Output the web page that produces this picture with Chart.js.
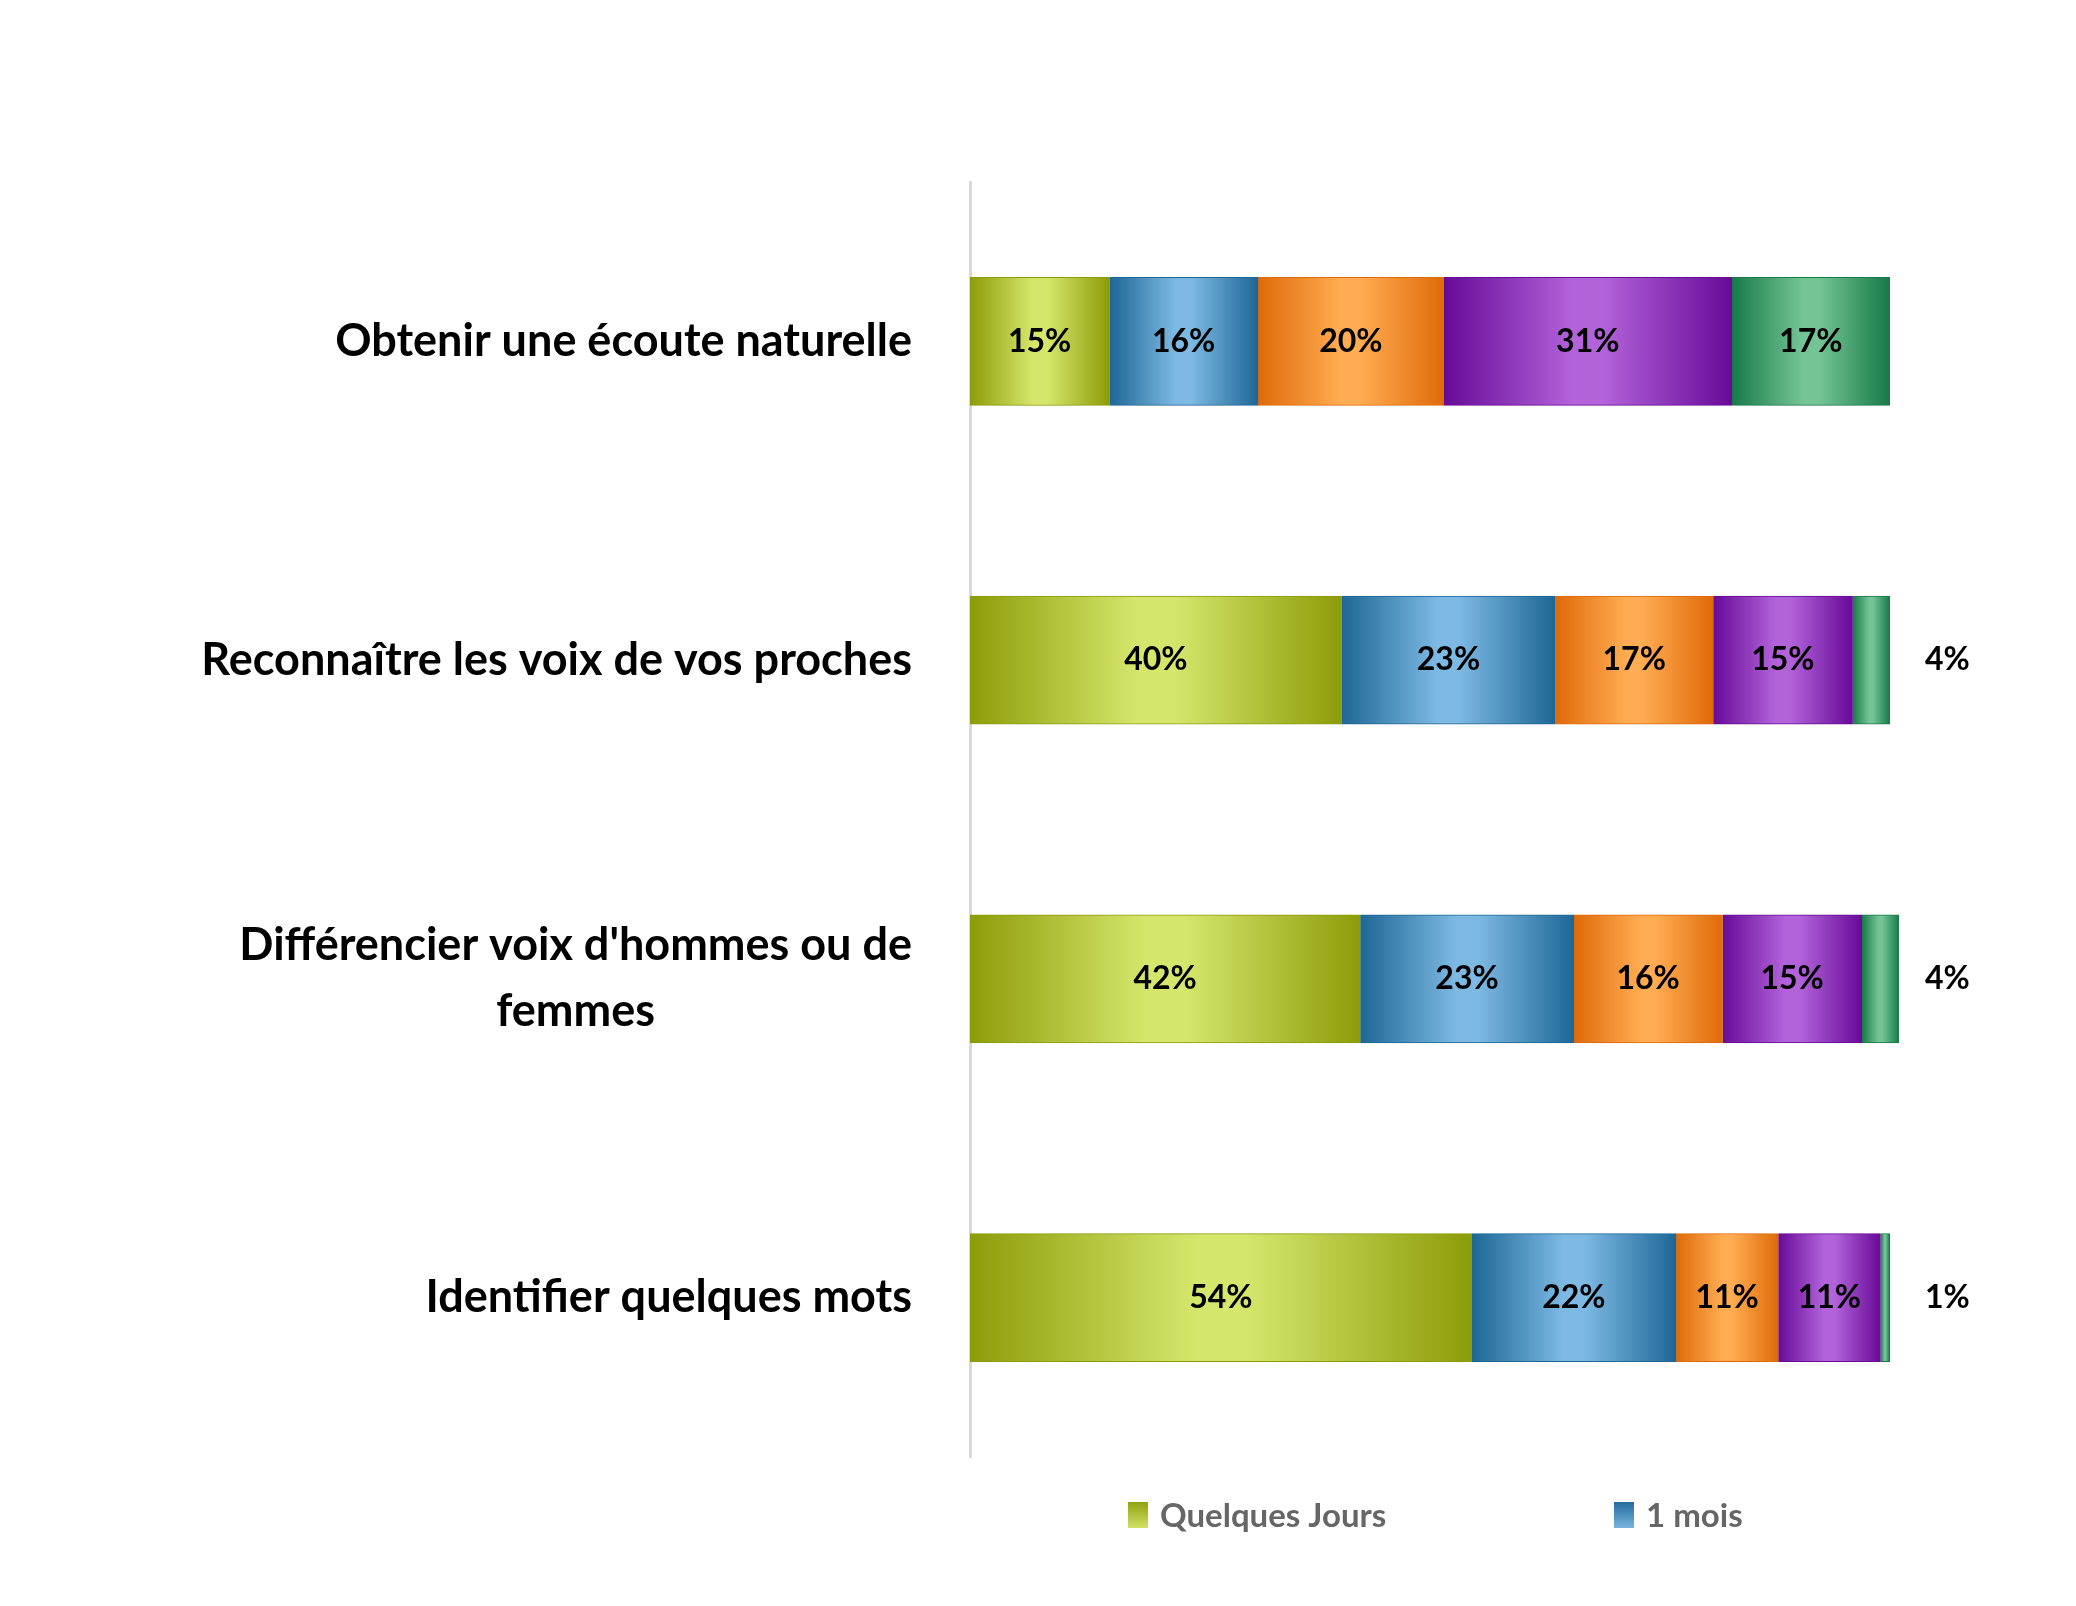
<!DOCTYPE html>
<html>
<head>
<meta charset="utf-8">
<script src="https://cdn.jsdelivr.net/npm/chart.js@4"></script>
<style>
  html, body { margin: 0; padding: 0; background: #fff; }
  canvas { display: block; }
</style>
</head>
<body>
<canvas id="chart" width="2076" height="1606"></canvas>
<script>
const categories = [
    ['Obtenir une écoute naturelle'],
    ['Reconnaître les voix de vos proches'],
    ["Différencier voix d'hommes ou de", 'femmes'],
    ['Identifier quelques mots']
]
const seriesNames = ['Quelques Jours', '1 mois', '2 mois', '3 mois', 'Plus de 3 mois']
const quelquesJours = [15, 40, 42, 54]
const unMois = [16, 23, 23, 22]
const deuxMois = [20, 17, 16, 11]
const troisMois = [31, 15, 15, 11]
const plusTroisMois = [17, 4, 4, 1]
const seriesValues = [quelquesJours, unMois, deuxMois, troisMois, plusTroisMois]

// couleurs: [foncé, clair]
const palette = [
    ['#8c9c08', '#d6e66c'],
    ['#1d6796', '#7db9e3'],
    ['#df6a08', '#ffac52'],
    ['#680a98', '#b263da'],
    ['#177a48', '#74c496']
]

const segmentGradient = (ctx, ds) => {
    const chart = ctx.chart
    const area = chart.chartArea
    if(!area || ctx.type !== 'data') return palette[ds][0]
    const i = ctx.dataIndex
    let start = 0
    for(let k = 0; k < ds; k++) start += seriesValues[k][i]
    const xs = chart.scales.x
    const x0 = xs.getPixelForValue(start)
    const x1 = xs.getPixelForValue(start + seriesValues[ds][i])
    const g = chart.ctx.createLinearGradient(x0, 0, Math.max(x1, x0 + 1), 0)
    g.addColorStop(0, palette[ds][0])
    g.addColorStop(0.45, palette[ds][1])
    g.addColorStop(0.55, palette[ds][1])
    g.addColorStop(1, palette[ds][0])
    return g
}

const labelsPlugin = {
    id: 'labels',
    afterDatasetsDraw(chart) {
        const c = chart.ctx
        const xs = chart.scales.x
        const ys = chart.scales.y
        c.save()
        // valeurs
        c.font = 'bold 32px Lato, "Open Sans", sans-serif'
        c.fillStyle = '#000'
        c.textBaseline = 'middle'
        categories.forEach((cat, i) => {
            const y = ys.getPixelForValue(i)
            let start = 0
            seriesValues.forEach((vals, ds) => {
                const v = vals[i]
                const x0 = xs.getPixelForValue(start)
                const x1 = xs.getPixelForValue(start + v)
                if(v < 6){
                    c.textAlign = 'left'
                    c.fillText(v + '%', xs.getPixelForValue(100) + 26, y)
                } else {
                    c.textAlign = 'center'
                    c.fillText(v + '%', (x0 + x1) / 2, y)
                }
                start += v
            })
        })
        // catégories
        c.font = 'bold 45px Lato, "Open Sans", sans-serif'
        c.textAlign = 'center'
        const right = 912
        categories.forEach((lines, i) => {
            const y = ys.getPixelForValue(i)
            const w = Math.max(...lines.map(l => c.measureText(l).width))
            const lh = 66
            lines.forEach((l, k) => {
                c.fillText(l, right - w / 2, y + (k - (lines.length - 1) / 2) * lh)
            })
        })
        // légende (seules les deux premières entrées sont visibles)
        c.font = 'bold 33px Lato, "Open Sans", sans-serif'
        c.textAlign = 'left'
        const legendX = [1128, 1614]
        legendX.forEach((lx, ds) => {
            const g = c.createLinearGradient(0, 1500, 0, 1530)
            g.addColorStop(0, palette[ds][0])
            g.addColorStop(1, palette[ds][1])
            c.fillStyle = g
            c.fillRect(lx, 1502, 20, 26)
            c.fillStyle = '#666'
            c.fillText(seriesNames[ds], lx + 32, 1516)
        })
        c.restore()
    }
}

const context = document.getElementById('chart').getContext('2d')
const chart = new Chart(context, {
    type: 'bar',
    data: {
        labels: categories.map(l => l.join(' ')),
        datasets: seriesValues.map((vals, ds) => ({
            label: seriesNames[ds],
            data: vals,
            backgroundColor: (ctx) => segmentGradient(ctx, ds),
            borderColor: palette[ds][0],
            borderWidth: 1,
            barThickness: 128
        }))
    },
    options: {
        indexAxis: 'y',
        responsive: false,
        devicePixelRatio: 1,
        animation: false,
        layout: {
            padding: { left: 962, right: 177, top: 182, bottom: 149 }
        },
        scales: {
            x: {
                stacked: true,
                min: 0,
                max: 100,
                display: false
            },
            y: {
                stacked: true,
                ticks: { display: false },
                grid: { display: false },
                border: { display: true, color: '#d9d9d9', width: 3 }
            }
        },
        plugins: {
            legend: { display: false },
            tooltip: { enabled: false }
        }
    },
    plugins: [labelsPlugin]
})
</script>
</body>
</html>
